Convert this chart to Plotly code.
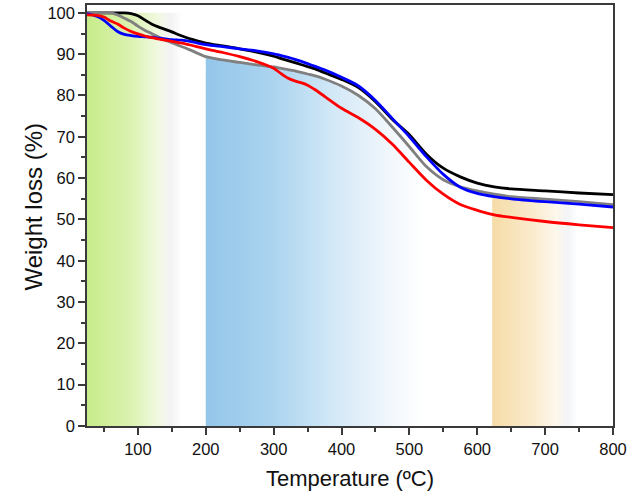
import numpy as np
import plotly.graph_objects as go

# ---- data ----
temperature = [25, 40, 50, 60, 70, 80, 90, 100, 110, 120, 130, 140, 150, 160, 170, 180,
               200, 225, 250, 275, 300, 310, 320, 330, 340, 350, 360, 375, 400, 425, 450,
               475, 500, 525, 550, 575, 600, 625, 650, 700, 750, 800]

black = [100.0, 100.0, 100.0, 100.0, 100.0, 100.0, 99.8, 99.3, 98.3, 97.3, 96.6, 96.0, 95.4,
         94.7, 94.1, 93.6, 92.7, 92.0, 91.3, 90.5, 89.5, 89.0, 88.5, 88.0, 87.5, 87.0, 86.5,
         85.5, 83.9, 81.9, 78.5, 74.2, 70.5, 65.8, 62.4, 60.3, 58.8, 57.9, 57.4, 56.9, 56.4, 56.0]

gray = [100.0, 100.0, 100.0, 100.0, 99.5, 98.7, 97.9, 96.8, 95.8, 95.0, 94.2, 93.4, 92.8,
        92.1, 91.5, 90.8, 89.4, 88.6, 88.0, 87.4, 86.9, 86.6, 86.3, 86.0, 85.6, 85.2, 84.8,
        84.0, 82.3, 80.0, 76.8, 72.3, 67.6, 62.8, 59.6, 57.9, 56.9, 56.1, 55.5, 54.9, 54.3, 53.6]

blue = [99.8, 99.1, 98.2, 96.8, 95.5, 94.8, 94.5, 94.3, 94.2, 94.1, 93.9, 93.7, 93.5, 93.4,
        93.3, 93.0, 92.3, 91.8, 91.3, 90.8, 90.1, 89.7, 89.3, 88.8, 88.3, 87.7, 87.1, 86.2,
        84.4, 82.3, 78.8, 74.4, 70.0, 65.2, 60.9, 57.8, 56.3, 55.5, 55.0, 54.3, 53.7, 53.0]

red = [99.5, 99.4, 99.0, 98.0, 97.3, 96.3, 95.5, 94.9, 94.4, 94.0, 93.7, 93.4, 93.1, 92.8,
       92.5, 92.1, 91.3, 90.4, 89.4, 88.2, 86.6, 85.4, 84.3, 83.6, 83.1, 82.5, 81.5, 79.8,
       76.9, 74.6, 71.8, 68.2, 63.8, 59.5, 56.1, 53.6, 52.2, 51.1, 50.5, 49.5, 48.7, 48.0]

series_names = ["black", "gray", "blue", "red"]
series_values = [black, gray, blue, red]
series_colors = ["#000000", "#808080", "#0000ff", "#ff0000"]

x_ticks = [100, 200, 300, 400, 500, 600, 700, 800]
y_ticks = [0, 10, 20, 30, 40, 50, 60, 70, 80, 90, 100]

# shaded temperature bands: (start, fade end)
green_band = [25, 165]
blue_band = [200, 520]
orange_band = [622, 748]

FONT = "Liberation Sans, Arial, sans-serif"

fig = go.Figure()

# green band: full rectangle up to 100 %
fig.add_trace(go.Scatter(
    x=[green_band[0], green_band[1], green_band[1], green_band[0], green_band[0]],
    y=[0, 0, 100, 100, 0],
    mode="lines", line=dict(width=0), fill="toself", hoverinfo="skip", showlegend=False,
    fillgradient=dict(type="horizontal", start=green_band[0], stop=green_band[1],
                      colorscale=[[0, "#c8ec8a"], [0.45, "#daf2af"], [0.75, "#f1f9e1"],
                                  [0.88, "#f2f2f4"], [1, "#ffffff"]])))


def band_under_curve(band):
    xs = np.linspace(band[0], band[1], 120)
    ys = np.interp(xs, temperature, gray)
    px = np.concatenate([[band[0]], xs, [band[1], band[0]]])
    py = np.concatenate([[0], ys, [0, 0]])
    return px, py


bx, by = band_under_curve(blue_band)
fig.add_trace(go.Scatter(
    x=bx, y=by, mode="lines", line=dict(width=0), fill="toself", hoverinfo="skip",
    showlegend=False,
    fillgradient=dict(type="horizontal", start=blue_band[0], stop=blue_band[1],
                      colorscale=[[0, "#94c6ea"], [0.3, "#aad3ef"], [0.6, "#d4e9f7"],
                                  [0.85, "#f2f7fc"], [1, "#ffffff"]])))

ox, oy = band_under_curve(orange_band)
fig.add_trace(go.Scatter(
    x=ox, y=oy, mode="lines", line=dict(width=0), fill="toself", hoverinfo="skip",
    showlegend=False,
    fillgradient=dict(type="horizontal", start=orange_band[0], stop=orange_band[1],
                      colorscale=[[0, "#f5dba6"], [0.5, "#fbecd0"], [0.75, "#fdf7ec"],
                                  [0.88, "#f3f4f6"], [1, "#ffffff"]])))

for name, vals, col in zip(series_names, series_values, series_colors):
    fig.add_trace(go.Scatter(
        x=temperature, y=vals, mode="lines", name=name,
        line=dict(color=col, width=2.8, shape="spline", smoothing=0.8),
        showlegend=False, hoverinfo="skip"))

axis_common = dict(
    showgrid=False, zeroline=False, showline=True, linecolor="#3a3a3a", linewidth=1.5,
    mirror=True, ticks="outside", ticklen=7, tickwidth=1.5, tickcolor="#3a3a3a",
    tickfont=dict(family=FONT, size=16.5, color="#111111"),
)

fig.update_xaxes(
    **axis_common, range=[25, 800], tickvals=x_ticks,
    minor=dict(ticks="outside", ticklen=4, tickwidth=1.5, tickcolor="#3a3a3a",
               tickvals=[50, 150, 250, 350, 450, 550, 650, 750]),
    title=dict(text="Temperature (ºC)", standoff=14,
               font=dict(family=FONT, size=22, color="#111111")))

fig.update_yaxes(
    **axis_common, range=[0, 101.9], tickvals=y_ticks,
    minor=dict(ticks="outside", ticklen=4, tickwidth=1.5, tickcolor="#3a3a3a",
               tickvals=[5, 15, 25, 35, 45, 55, 65, 75, 85, 95]))

fig.add_annotation(
    text="Weight loss (%)", textangle=-90, showarrow=False,
    xref="paper", yref="paper", x=-0.102, y=0.522, xanchor="center", yanchor="middle",
    font=dict(family=FONT, size=24, color="#111111"))

fig.update_layout(
    width=630, height=495,
    margin=dict(l=87, r=17, t=3, b=69),
    paper_bgcolor="white", plot_bgcolor="white",
)

fig.write_html("out.html", config={"displayModeBar": False},
               post_script="document.body.style.margin='0px';")
